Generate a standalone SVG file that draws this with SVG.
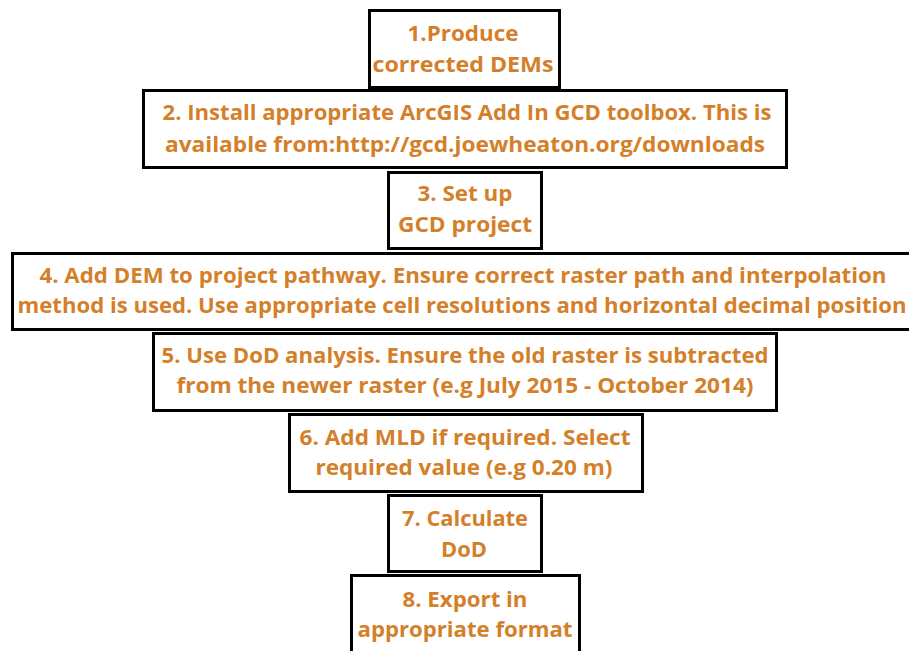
<svg xmlns="http://www.w3.org/2000/svg" width="909" height="651" viewBox="0 0 909 651">
  <style>
    .box { fill: #ffffff; stroke: #000000; stroke-width: 3; }
    .lbl { font-family: "Open Sans", "Liberation Sans", sans-serif; font-weight: bold; font-size: 22px; fill: #D47F2A; text-anchor: middle; }
  </style>
  <rect width="909" height="651" fill="#ffffff"/>

  <!-- workflow steps, top to bottom -->
  <g id="step1">
    <rect class="box" x="369.5" y="10.5" width="190" height="77"/>
    <text class="lbl" x="463" y="41" textLength="111" lengthAdjust="spacingAndGlyphs">1.Produce</text>
    <text class="lbl" x="463" y="72" textLength="181" lengthAdjust="spacingAndGlyphs">corrected DEMs</text>
  </g>

  <g id="step2">
    <rect class="box" x="143.5" y="90.5" width="643" height="77"/>
    <text class="lbl" x="467" y="120" textLength="609" lengthAdjust="spacingAndGlyphs">2. Install appropriate ArcGIS Add In GCD toolbox. This is</text>
    <text class="lbl" x="465" y="152" textLength="600" lengthAdjust="spacingAndGlyphs">available from:http://gcd.joewheaton.org/downloads</text>
  </g>

  <g id="step3">
    <rect class="box" x="388.5" y="172.5" width="153" height="76"/>
    <text class="lbl" x="465" y="201" textLength="95" lengthAdjust="spacingAndGlyphs">3. Set up</text>
    <text class="lbl" x="465" y="232" textLength="134" lengthAdjust="spacingAndGlyphs">GCD project</text>
  </g>

  <g id="step4">
    <rect class="box" x="12.5" y="253.5" width="910" height="76"/>
    <text class="lbl" x="463" y="283" textLength="847" lengthAdjust="spacingAndGlyphs">4. Add DEM to project pathway. Ensure correct raster path and interpolation</text>
    <text class="lbl" x="462" y="313" textLength="889" lengthAdjust="spacingAndGlyphs">method is used. Use appropriate cell resolutions and horizontal decimal position</text>
  </g>

  <g id="step5">
    <rect class="box" x="153.5" y="333.5" width="623" height="77"/>
    <text class="lbl" x="465" y="363" textLength="607" lengthAdjust="spacingAndGlyphs">5. Use DoD analysis. Ensure the old raster is subtracted</text>
    <text class="lbl" x="465" y="393" textLength="577" lengthAdjust="spacingAndGlyphs">from the newer raster (e.g July 2015 - October 2014)</text>
  </g>

  <g id="step6">
    <rect class="box" x="289.5" y="414.5" width="353" height="77"/>
    <text class="lbl" x="465" y="445" textLength="331" lengthAdjust="spacingAndGlyphs">6. Add MLD if required. Select</text>
    <text class="lbl" x="464" y="475" textLength="297" lengthAdjust="spacingAndGlyphs">required value (e.g 0.20 m)</text>
  </g>

  <g id="step7">
    <rect class="box" x="388.5" y="495.5" width="153" height="76"/>
    <text class="lbl" x="465" y="526" textLength="126" lengthAdjust="spacingAndGlyphs">7. Calculate</text>
    <text class="lbl" x="464" y="557" textLength="46" lengthAdjust="spacingAndGlyphs">DoD</text>
  </g>

  <g id="step8">
    <rect class="box" x="351.5" y="575.5" width="228" height="90"/>
    <text class="lbl" x="465" y="607" textLength="125" lengthAdjust="spacingAndGlyphs">8. Export in</text>
    <text class="lbl" x="465" y="637" textLength="215" lengthAdjust="spacingAndGlyphs">appropriate format</text>
  </g>

  <!-- the steps touch one another; no separate connectors are drawn -->
  <g id="connectors"/>
</svg>
